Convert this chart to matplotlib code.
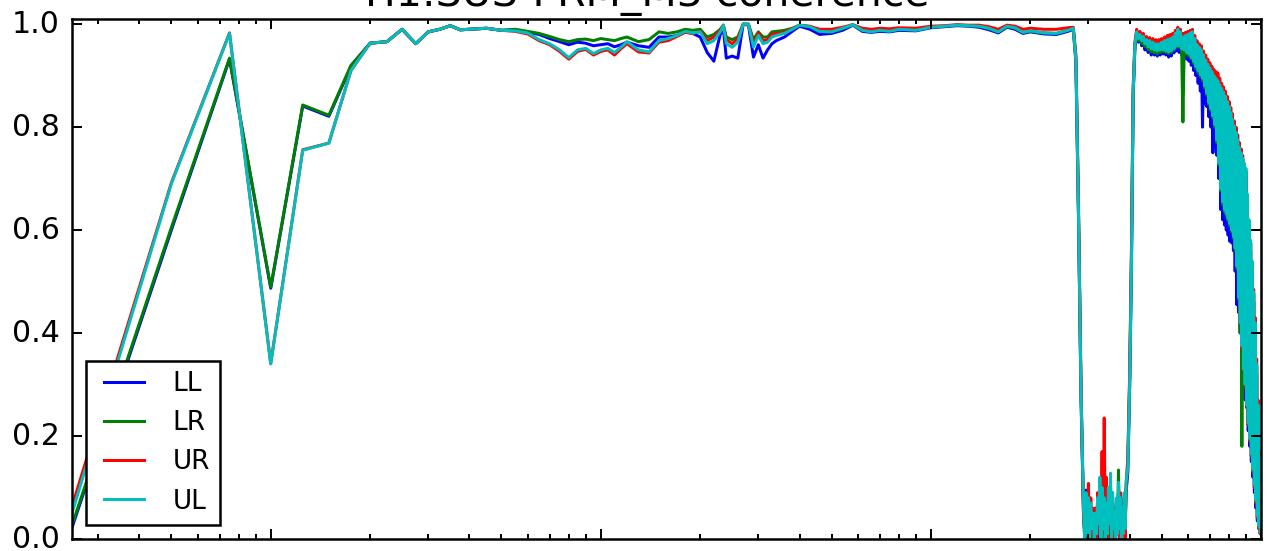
import matplotlib
matplotlib.use("Agg")
import matplotlib.pyplot as plt
import numpy as np

plt.style.use("classic")

# ---------------- data (frequency in Hz, coherence) ----------------
freq_low = [0.25, 0.5, 0.75, 1.0, 1.25, 1.5, 1.75, 2.0, 2.25, 2.5, 2.75, 3.0, 3.25,
            3.5, 3.75, 4.0, 4.5, 5.0, 5.5, 6.0, 6.5, 7.0, 7.5, 8.0, 8.5, 9.0, 9.5]
freq_mid = [10, 10.5, 11, 11.5, 12, 13, 14, 15, 16, 17, 18, 19, 20, 21, 22, 23, 23.5,
            24, 25, 26, 27, 28, 29, 30, 31, 32, 33, 34, 36, 38, 40, 43, 46, 50, 54, 58,
            62, 66, 70, 75, 80, 90, 100, 110, 120, 130, 140, 150, 160, 170, 180, 190,
            200, 220, 240, 260, 270, 275, 280, 285]
# notch region (coherence collapses): local tops and bottoms, then recovery
freq_dip_top = [290, 295, 300, 305, 310, 315, 320, 325, 330, 335, 340, 345, 350, 355,
                360, 365, 370, 375, 380, 385, 390]
freq_dip_bottom = [292.5, 297.5, 302.5, 307.5, 312.5, 317.5, 322.5, 327.5, 332.5,
                   337.5, 342.5, 347.5, 352.5, 357.5, 362.5, 367.5, 372.5, 377.5,
                   382.5, 387.5]
freq_rise = [395, 400, 405, 410, 415]
# high-frequency noisy band: local maxima (peaks) and local minima (troughs)
freq_peaks = [420, 430, 440, 450, 460, 470, 480, 490,
              500, 510, 520, 530, 540, 550, 560, 570, 580, 590, 600, 610, 620, 630,
              640, 650, 660, 670, 680, 690, 700, 710, 720, 730, 740, 750, 760, 770,
              780, 790, 800, 810, 820, 830, 840, 850, 860, 870, 880, 890, 900, 910,
              920, 930, 940, 950, 960, 970, 980, 990, 1000]
freq_troughs = [425, 435, 445, 455, 465, 475, 485, 495,
                505, 515, 525, 535, 545, 555, 565, 575, 585, 595, 605, 615, 625, 635,
                645, 655, 665, 675, 685, 695, 705, 715, 725, 735, 745, 755, 765, 775,
                785, 795, 805, 815, 825, 835, 845, 855, 865, 875, 885, 895, 905, 915,
                925, 935, 945, 955, 965, 975, 985, 995]

# LL (blue)
ll_low = [0.022, 0.600, 0.932, 0.487, 0.841, 0.821, 0.918, 0.963, 0.966, 0.990, 0.962,
          0.985, 0.990, 0.997, 0.989, 0.990, 0.992, 0.988, 0.989, 0.984, 0.980, 0.972,
          0.966, 0.960, 0.965, 0.963, 0.958]
ll_mid = [0.960, 0.962, 0.956, 0.960, 0.965, 0.958, 0.955, 0.975, 0.975, 0.978, 0.985,
          0.982, 0.975, 0.945, 0.928, 0.980, 0.992, 0.934, 0.938, 0.934, 1.000, 0.998,
          0.936, 0.960, 0.934, 0.950, 0.962, 0.968, 0.975, 0.986, 0.996, 0.990, 0.980,
          0.982, 0.988, 0.998, 0.986, 0.984, 0.986, 0.985, 0.988, 0.987, 0.993, 0.995,
          0.997, 0.996, 0.994, 0.989, 0.983, 0.994, 0.990, 0.982, 0.985, 0.981, 0.980,
          0.986, 0.990, 0.925, 0.620, 0.270]
ll_dip_top = [0.05, 0.095, 0.08, 0.06, 0.05, 0.05, 0.07, 0.10, 0.09, 0.08, 0.06, 0.08,
              0.10, 0.08, 0.05, 0.07, 0.09, 0.07, 0.06, 0.08, 0.09]
ll_dip_bottom = [0.01, 0.00, 0.02, 0.00, 0.01, 0.02, 0.00, 0.01, 0.02, 0.00, 0.01, 0.00,
                 0.02, 0.01, 0.00, 0.02, 0.01, 0.00, 0.02, 0.01]
ll_rise = [0.13, 0.29, 0.52, 0.86, 0.955]
ll_peaks = [0.982, 0.975, 0.970, 0.962, 0.960, 0.956, 0.955, 0.956,
            0.960, 0.962, 0.965, 0.966, 0.970, 0.976, 0.985, 0.978, 0.970, 0.972, 0.975,
            0.977, 0.980, 0.966, 0.955, 0.950, 0.945, 0.934, 0.925, 0.916, 0.910, 0.902,
            0.895, 0.888, 0.880, 0.875, 0.870, 0.860, 0.850, 0.840, 0.830, 0.818, 0.805,
            0.792, 0.780, 0.765, 0.750, 0.738, 0.725, 0.712, 0.700, 0.650, 0.600, 0.560,
            0.520, 0.460, 0.400, 0.320, 0.240, 0.140, 0.050]
ll_troughs = [0.965, 0.958, 0.950, 0.945, 0.940, 0.940, 0.938, 0.940,
              0.942, 0.940, 0.936, 0.938, 0.944, 0.948, 0.945, 0.940, 0.938, 0.932, 0.928,
              0.920, 0.910, 0.900, 0.885, 0.870, 0.800, 0.845, 0.840, 0.820, 0.800, 0.750,
              0.760, 0.745, 0.700, 0.640, 0.620, 0.610, 0.600, 0.590, 0.578, 0.575, 0.560,
              0.520, 0.455, 0.440, 0.400, 0.350, 0.300, 0.270, 0.256, 0.210, 0.180, 0.150,
              0.120, 0.090, 0.060, 0.035, 0.020, 0.010]

# LR (green)
lr_low = [0.027, 0.605, 0.934, 0.489, 0.843, 0.823, 0.920, 0.963, 0.966, 0.990, 0.962,
          0.985, 0.990, 0.997, 0.989, 0.990, 0.992, 0.988, 0.990, 0.986, 0.982, 0.976,
          0.970, 0.966, 0.970, 0.971, 0.968]
lr_mid = [0.972, 0.970, 0.968, 0.972, 0.975, 0.966, 0.970, 0.985, 0.982, 0.985, 0.990,
          0.988, 0.990, 0.975, 0.980, 0.990, 0.998, 0.975, 0.970, 0.975, 1.000, 1.000,
          0.970, 0.985, 0.975, 0.975, 0.985, 0.986, 0.988, 0.992, 0.998, 0.995, 0.986,
          0.985, 0.991, 0.999, 0.988, 0.986, 0.988, 0.987, 0.990, 0.989, 0.994, 0.996,
          0.998, 0.997, 0.996, 0.991, 0.985, 0.995, 0.992, 0.984, 0.986, 0.983, 0.982,
          0.988, 0.991, 0.930, 0.630, 0.280]
lr_dip_top = [0.04, 0.06, 0.05, 0.06, 0.04, 0.05, 0.07, 0.09, 0.08, 0.07, 0.06, 0.08,
              0.10, 0.07, 0.05, 0.07, 0.134, 0.07, 0.06, 0.08, 0.09]
lr_dip_bottom = [0.00, 0.01, 0.02, 0.00, 0.01, 0.00, 0.02, 0.01, 0.00, 0.02, 0.01, 0.00,
                 0.01, 0.02, 0.00, 0.01, 0.02, 0.00, 0.01, 0.02]
lr_rise = [0.15, 0.31, 0.55, 0.87, 0.96]
lr_peaks = [0.984, 0.978, 0.973, 0.966, 0.964, 0.961, 0.958, 0.958,
            0.962, 0.965, 0.968, 0.970, 0.972, 0.979, 0.988, 0.982, 0.810, 0.975, 0.978,
            0.980, 0.982, 0.970, 0.958, 0.952, 0.948, 0.938, 0.928, 0.920, 0.912, 0.905,
            0.898, 0.892, 0.885, 0.879, 0.872, 0.865, 0.858, 0.848, 0.838, 0.825, 0.812,
            0.800, 0.788, 0.772, 0.758, 0.748, 0.738, 0.726, 0.715, 0.665, 0.615, 0.575,
            0.535, 0.475, 0.415, 0.335, 0.255, 0.155, 0.055]
lr_troughs = [0.968, 0.962, 0.956, 0.950, 0.946, 0.944, 0.942, 0.945,
              0.947, 0.945, 0.943, 0.945, 0.950, 0.955, 0.955, 0.950, 0.947, 0.942, 0.938,
              0.932, 0.924, 0.914, 0.906, 0.898, 0.890, 0.876, 0.862, 0.844, 0.832, 0.818,
              0.800, 0.770, 0.726, 0.676, 0.650, 0.636, 0.628, 0.618, 0.608, 0.596, 0.584,
              0.560, 0.525, 0.465, 0.400, 0.180, 0.325, 0.295, 0.255, 0.220, 0.190, 0.160,
              0.130, 0.100, 0.070, 0.042, 0.022, 0.010]

# UR (red)
ur_low = [0.063, 0.692, 0.983, 0.341, 0.756, 0.769, 0.910, 0.963, 0.966, 0.990, 0.962,
          0.985, 0.990, 0.997, 0.989, 0.990, 0.992, 0.988, 0.986, 0.981, 0.968, 0.960,
          0.947, 0.932, 0.947, 0.951, 0.940]
ur_mid = [0.947, 0.950, 0.940, 0.952, 0.962, 0.946, 0.944, 0.965, 0.968, 0.976, 0.984,
          0.982, 0.986, 0.968, 0.975, 0.988, 0.998, 0.970, 0.962, 0.972, 1.000, 1.000,
          0.962, 0.982, 0.968, 0.970, 0.980, 0.982, 0.984, 0.991, 0.998, 0.996, 0.990,
          0.990, 0.994, 0.999, 0.992, 0.990, 0.992, 0.991, 0.993, 0.992, 0.996, 0.997,
          0.999, 0.998, 0.998, 0.995, 0.990, 0.998, 0.996, 0.990, 0.992, 0.990, 0.990,
          0.993, 0.994, 0.940, 0.650, 0.300]
ur_dip_top = [0.05, 0.07, 0.108, 0.08, 0.06, 0.06, 0.09, 0.11, 0.17, 0.235, 0.12, 0.08,
              0.10, 0.09, 0.06, 0.07, 0.09, 0.09, 0.07, 0.08, 0.10]
ur_dip_bottom = [0.01, 0.02, 0.00, 0.01, 0.02, 0.00, 0.01, 0.03, 0.02, 0.01, 0.00, 0.02,
                 0.01, 0.00, 0.02, 0.01, 0.00, 0.02, 0.01, 0.00]
ur_rise = [0.16, 0.32, 0.56, 0.88, 0.965]
ur_peaks = [0.990, 0.986, 0.982, 0.976, 0.974, 0.972, 0.970, 0.970,
            0.972, 0.975, 0.978, 0.980, 0.982, 0.988, 0.994, 0.990, 0.982, 0.984, 0.986,
            0.988, 0.990, 0.978, 0.968, 0.962, 0.958, 0.948, 0.940, 0.932, 0.925, 0.918,
            0.912, 0.908, 0.905, 0.895, 0.885, 0.878, 0.870, 0.860, 0.850, 0.838, 0.826,
            0.812, 0.800, 0.785, 0.770, 0.758, 0.745, 0.725, 0.705, 0.660, 0.612, 0.575,
            0.535, 0.485, 0.430, 0.350, 0.270, 0.170, 0.055]
ur_troughs = [0.976, 0.972, 0.966, 0.960, 0.956, 0.954, 0.952, 0.953,
              0.953, 0.951, 0.950, 0.952, 0.956, 0.962, 0.962, 0.956, 0.953, 0.949, 0.946,
              0.940, 0.932, 0.922, 0.914, 0.906, 0.898, 0.884, 0.870, 0.852, 0.840, 0.826,
              0.808, 0.778, 0.735, 0.685, 0.658, 0.644, 0.635, 0.625, 0.615, 0.603, 0.590,
              0.568, 0.533, 0.472, 0.420, 0.372, 0.328, 0.298, 0.258, 0.222, 0.192, 0.162,
              0.132, 0.100, 0.070, 0.040, 0.020, 0.010]

# UL (cyan)
ul_low = [0.050, 0.690, 0.982, 0.340, 0.755, 0.769, 0.910, 0.963, 0.966, 0.990, 0.962,
          0.985, 0.990, 0.997, 0.989, 0.990, 0.992, 0.988, 0.987, 0.983, 0.970, 0.962,
          0.950, 0.935, 0.950, 0.953, 0.943]
ul_mid = [0.950, 0.953, 0.945, 0.955, 0.966, 0.950, 0.946, 0.968, 0.972, 0.978, 0.986,
          0.983, 0.985, 0.962, 0.968, 0.985, 0.998, 0.962, 0.955, 0.965, 1.000, 1.000,
          0.956, 0.978, 0.962, 0.965, 0.975, 0.978, 0.982, 0.990, 0.998, 0.995, 0.986,
          0.985, 0.992, 0.999, 0.988, 0.985, 0.988, 0.986, 0.990, 0.988, 0.994, 0.996,
          0.998, 0.997, 0.996, 0.992, 0.985, 0.996, 0.993, 0.984, 0.987, 0.983, 0.982,
          0.988, 0.992, 0.930, 0.630, 0.280]
ul_dip_top = [0.06, 0.09, 0.08, 0.07, 0.05, 0.05, 0.08, 0.12, 0.10, 0.08, 0.07, 0.10,
              0.128, 0.09, 0.05, 0.08, 0.11, 0.08, 0.06, 0.09, 0.11]
ul_dip_bottom = [0.00, 0.01, 0.00, 0.02, 0.00, 0.01, 0.03, 0.00, 0.02, 0.00, 0.01, 0.03,
                 0.00, 0.02, 0.00, 0.01, 0.02, 0.00, 0.01, 0.02]
ul_rise = [0.14, 0.30, 0.53, 0.87, 0.96]
ul_peaks = [0.985, 0.980, 0.976, 0.970, 0.968, 0.965, 0.962, 0.962,
            0.965, 0.968, 0.970, 0.972, 0.975, 0.982, 0.990, 0.985, 0.975, 0.978, 0.980,
            0.983, 0.985, 0.972, 0.960, 0.955, 0.950, 0.940, 0.930, 0.922, 0.915, 0.908,
            0.900, 0.895, 0.890, 0.882, 0.875, 0.868, 0.860, 0.850, 0.840, 0.828, 0.815,
            0.802, 0.790, 0.775, 0.760, 0.750, 0.740, 0.730, 0.720, 0.670, 0.620, 0.580,
            0.540, 0.480, 0.420, 0.340, 0.260, 0.160, 0.060]
ul_troughs = [0.972, 0.968, 0.962, 0.956, 0.952, 0.950, 0.948, 0.950,
              0.950, 0.948, 0.946, 0.948, 0.952, 0.958, 0.958, 0.952, 0.950, 0.945, 0.942,
              0.935, 0.928, 0.918, 0.910, 0.902, 0.895, 0.880, 0.866, 0.848, 0.836, 0.822,
              0.805, 0.775, 0.730, 0.680, 0.655, 0.640, 0.632, 0.622, 0.612, 0.600, 0.588,
              0.565, 0.530, 0.470, 0.420, 0.375, 0.330, 0.300, 0.260, 0.225, 0.195, 0.165,
              0.135, 0.105, 0.075, 0.045, 0.025, 0.012]

labels = ["LL", "LR", "UR", "UL"]
colors = ["b", "g", "r", "c"]
title = "H1:SUS-PRM_M3 coherence"
yticks = [0.0, 0.2, 0.4, 0.6, 0.8, 1.0]

freq_all = (freq_low + freq_mid + freq_dip_top + freq_dip_bottom + freq_rise
            + freq_peaks + freq_troughs)


def assemble(*parts):
    f = np.array(freq_all, dtype=float)
    v = np.array(sum(parts, []), dtype=float)
    order = np.argsort(f, kind="stable")
    return f[order], v[order]


series = [
    assemble(ll_low, ll_mid, ll_dip_top, ll_dip_bottom, ll_rise, ll_peaks, ll_troughs),
    assemble(lr_low, lr_mid, lr_dip_top, lr_dip_bottom, lr_rise, lr_peaks, lr_troughs),
    assemble(ur_low, ur_mid, ur_dip_top, ur_dip_bottom, ur_rise, ur_peaks, ur_troughs),
    assemble(ul_low, ul_mid, ul_dip_top, ul_dip_bottom, ul_rise, ul_peaks, ul_troughs),
]

# ---------------- figure ----------------
DPI = 180
fig = plt.figure(figsize=(1270 / DPI, 551 / DPI), dpi=DPI, facecolor="white")
ax = fig.add_axes([72 / 1270, 12 / 551, 1189 / 1270, 520 / 551])

for lab, col, (f, v) in zip(labels, colors, series):
    ax.plot(f, v, color=col, lw=1.2, label=lab)

ax.set_xscale("log")
ax.set_xlim(0.25, 1000)
ax.set_ylim(0, 1.01)
ax.set_yticks(yticks)
ax.tick_params(axis="both", which="both", direction="in", top=True, right=True,
               labelbottom=False)
ax.tick_params(axis="both", which="major", length=4, width=0.8, labelsize=12, pad=5)
ax.tick_params(axis="both", which="minor", length=2, width=0.8)
for sp in ax.spines.values():
    sp.set_linewidth(1.0)

t = ax.set_title(title, fontsize=16.4, pad=5)
t.set_x((647 - 72) / 1189)

leg = ax.legend(loc="lower left", fontsize=10.5, handlelength=2.1, handletextpad=0.8,
                borderpad=0.4, labelspacing=0.5, borderaxespad=0.53, numpoints=2,
                fancybox=False, frameon=True)
leg.get_frame().set_edgecolor("black")
leg.get_frame().set_linewidth(1.0)

fig.savefig("out.png", dpi=DPI, facecolor="white")
